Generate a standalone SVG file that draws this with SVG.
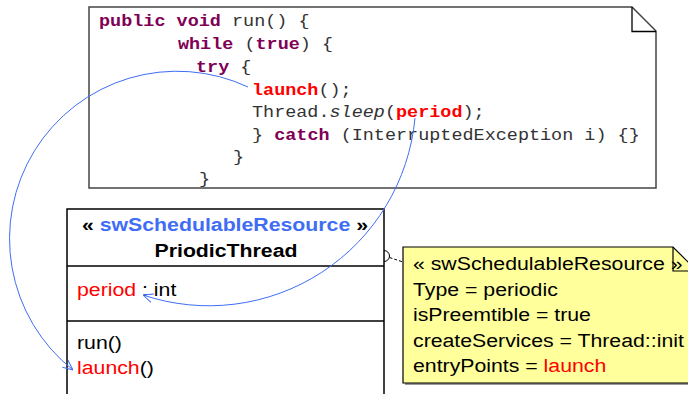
<svg xmlns="http://www.w3.org/2000/svg" width="688" height="394" viewBox="0 0 688 394">
<style>
.code{font-family:"Liberation Mono","DejaVu Sans Mono",monospace;font-size:16.5px;fill:#333}
.kw{font-weight:bold;fill:#7F0055}
.hl{font-weight:bold;fill:#FF0000}
.uml{font-family:"Liberation Sans",Arial,sans-serif;font-size:19px;fill:#000}
.b{font-weight:bold}
.st{fill:#3F6DF4}
.red{fill:#FF0000}
.box{fill:#fff;stroke:#000;stroke-width:1.5}
.link{fill:none;stroke:#3F6DF4;stroke-width:1}
</style>
<defs>
<marker id="open" viewBox="0 0 10 10" refX="10" refY="5" markerWidth="10" markerHeight="10" markerUnits="userSpaceOnUse" orient="auto">
<path d="M0,0.5 L10,5 L0,9.5" fill="none" stroke="#3F6DF4" stroke-width="1"/>
</marker>
</defs>
<rect width="688" height="394" fill="#fff"/>

<g id="code-note">
<path d="M89,7 H632 L656,31 V188 H89 Z" fill="#fff" stroke="#444" stroke-width="1.5"/>
<path d="M632,7 V31.5 H656" fill="none" stroke="#000" stroke-width="1.3"/>
<g class="code" transform="translate(99 0) scale(1.12 1)">
<text x="0" y="26"><tspan class="kw">public</tspan> <tspan class="kw">void</tspan> run() {</text>
<text x="70.5" y="49"><tspan class="kw">while</tspan> (<tspan class="kw">true</tspan>) {</text>
<text x="86.6" y="72"><tspan class="kw">try</tspan> {</text>
<text x="136.6" y="95"><tspan class="hl">launch</tspan>();</text>
<text x="136.6" y="117">Thread.<tspan font-style="italic">sleep</tspan>(<tspan class="hl">period</tspan>);</text>
<text x="136.6" y="140">} <tspan class="kw">catch</tspan> (InterruptedException i) {}</text>
<text x="119.6" y="162">}</text>
<text x="89.3" y="184">}</text>
</g>
</g>

<g id="class-PriodicThread">
<rect class="box" x="67" y="209" width="317" height="200"/>
<line x1="67" y1="266" x2="384" y2="266" stroke="#000" stroke-width="1.5"/>
<line x1="67" y1="321" x2="384" y2="321" stroke="#000" stroke-width="1.5"/>
<text class="uml b" text-anchor="middle" transform="translate(225 231) scale(1.12 1)">« <tspan class="st">swSchedulableResource</tspan> »</text>
<text class="uml b" text-anchor="middle" transform="translate(226 257) scale(1.12 1)">PriodicThread</text>
<text class="uml" transform="translate(77 296) scale(1.12 1)"><tspan class="red">period</tspan> : int</text>
<text class="uml" transform="translate(77 349) scale(1.12 1)">run()</text>
<text class="uml" transform="translate(77 374) scale(1.12 1)"><tspan class="red">launch</tspan>()</text>
</g>

<g id="stereotype-note">
<path d="M405,249 H675 L700,274 V385 H405 Z" fill="#999"/>
<path d="M403,247 H673 L698,272 V383 H403 Z" fill="#FFFF9C" stroke="#000" stroke-width="1.2"/>
<path d="M673,247 V271 H698" fill="none" stroke="#000" stroke-width="1.2"/>
<text class="uml" transform="translate(413 270) scale(1.12 1)">« swSchedulableResource »</text>
<text class="uml" transform="translate(413 296) scale(1.12 1)">Type = periodic</text>
<text class="uml" transform="translate(413 321) scale(1.12 1)">isPreemtible = true</text>
<text class="uml" transform="translate(413 347) scale(1.12 1)">createServices = Thread::init</text>
<text class="uml" transform="translate(413 372) scale(1.12 1)">entryPoints = <tspan class="red">launch</tspan></text>
</g>

<g id="connectors">
<path d="M384,250.5 A5.5,5.5 0 0 1 384,261.5" fill="none" stroke="#000" stroke-width="1"/>
<line x1="389.5" y1="257.5" x2="403" y2="262" stroke="#000" stroke-width="1" stroke-dasharray="3,2"/>
<path class="link" d="M248,87 A167.5,167.5 0 0 0 73,370" marker-end="url(#open)"/>
<path class="link" d="M415,118 A207,207 0 0 1 143,295" marker-end="url(#open)"/>
</g>
</svg>
